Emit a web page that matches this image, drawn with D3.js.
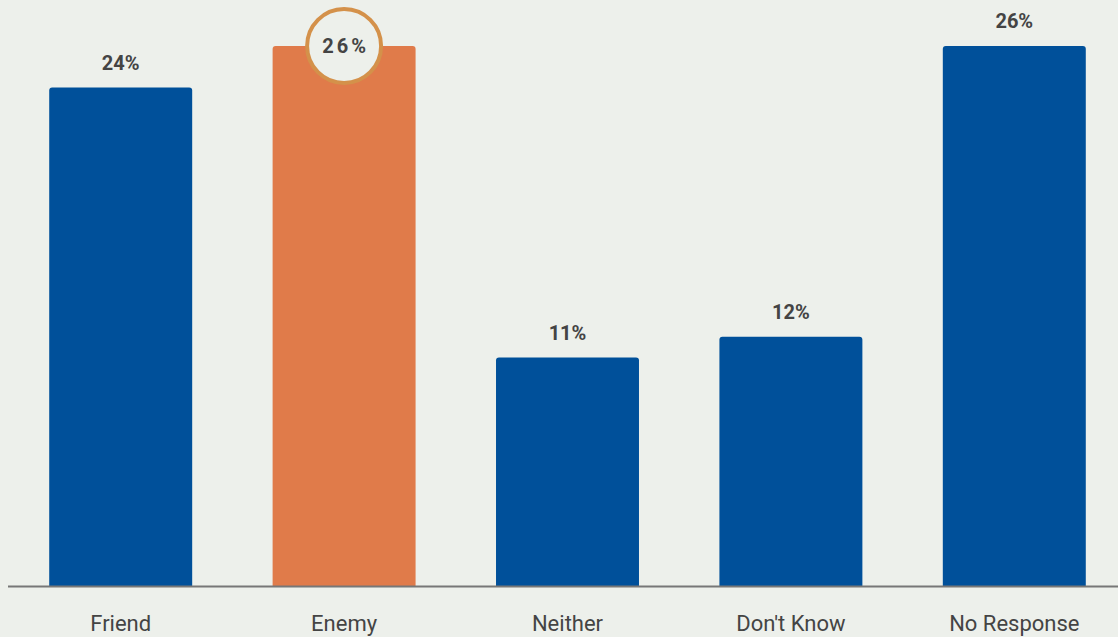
<!DOCTYPE html>
<html><head><meta charset="utf-8">
<script src="https://cdn.jsdelivr.net/npm/d3@7"></script>
<style>
html,body{margin:0;padding:0;background:#edf0eb;}
svg{display:block;font-family:Roboto, "Noto Sans", sans-serif;}
</style></head>
<body><svg id="chart" width="1118" height="637"></svg>
<script>
const categories = ["Friend", "Enemy", "Neither", "Don't Know", "No Response"];
const values = [24, 26, 11, 12, 26];
const highlighted = ["Enemy"];

const W = 1118, H = 637;
const baseline = 586;
const svg = d3.select("#chart");
svg.append("rect").attr("width", W).attr("height", H).attr("fill", "#edf0eb");

const x = d3.scaleBand().domain(categories).range([9, 1126]).paddingInner(0.36).paddingOuter(0.18);
const y = d3.scaleLinear().domain([0, 26]).range([baseline, 46]);

const data = categories.map((c, i) => ({cat: c, val: values[i]}));

function barPath(d) {
  const x0 = x(d.cat), w = x.bandwidth(), y0 = y(d.val), r = 3;
  return `M${x0},${baseline}V${y0 + r}Q${x0},${y0} ${x0 + r},${y0}H${x0 + w - r}Q${x0 + w},${y0} ${x0 + w},${y0 + r}V${baseline}Z`;
}

svg.append("g").selectAll("path").data(data).join("path")
  .attr("d", barPath)
  .attr("fill", d => highlighted.includes(d.cat) ? "#e07b4a" : "#00509a");

// axis
const axis = svg.append("g").attr("transform", `translate(0,${baseline})`)
  .call(d3.axisBottom(x).tickSize(0).tickPadding(29));
axis.select(".domain").remove();
axis.selectAll("text").attr("font-size", 22).attr("fill", "#444")
  .attr("font-family", "Roboto, sans-serif");
svg.append("line").attr("x1", 8).attr("x2", 1118).attr("y1", baseline + 0.5).attr("y2", baseline + 0.5)
  .attr("stroke", "#777").attr("stroke-width", 2);

// labels
data.forEach(d => {
  const cx = x(d.cat) + x.bandwidth() / 2;
  if (highlighted.includes(d.cat)) {
    svg.append("circle").attr("cx", cx).attr("cy", y(d.val)).attr("r", 37)
      .attr("fill", "#edf0eb").attr("stroke", "#d4914a").attr("stroke-width", 4);
    svg.append("text").attr("x", cx + 1.5).attr("y", y(d.val)).attr("dy", "0.35em")
      .attr("text-anchor", "middle").attr("font-size", 20).attr("font-weight", "bold")
      .attr("letter-spacing", 3).attr("fill", "#444").text(d.val + "%");
  } else {
    svg.append("text").attr("x", cx).attr("y", y(d.val) - 25).attr("dy", "0.35em")
      .attr("text-anchor", "middle").attr("font-size", 20).attr("font-weight", "bold")
      .attr("fill", "#444").text(d.val + "%");
  }
});
</script></body></html>
